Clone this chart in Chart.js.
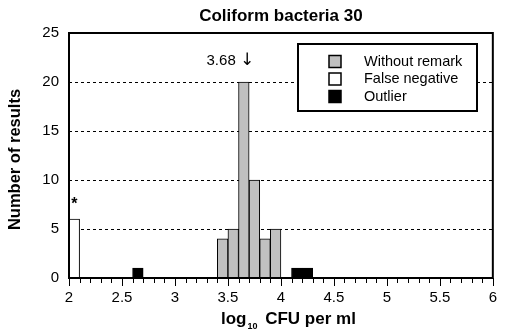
<!DOCTYPE html>
<html>
<head>
<meta charset="utf-8">
<script src="https://cdn.jsdelivr.net/npm/chart.js@4"></script>
<style>
  body { margin: 0; background: #fff; }
</style>
</head>
<body>
<canvas id="chart" width="508" height="330"></canvas>
<script>
// histogram bins (bin centres, width 0.1 log units) and counts per category
const withoutRemarkBins = [3.45, 3.55, 3.65, 3.75, 3.85, 3.95];
const withoutRemarkCounts = [4, 5, 20, 10, 4, 5];
const falseNegativeBins = [2.05];
const falseNegativeCounts = [6];
const outlierBins = [2.65, 4.15, 4.25];
const outlierCounts = [1, 1, 1];

const seriesNames = ['Without remark', 'False negative', 'Outlier'];
const xTickLabels = ['2', '2.5', '3', '3.5', '4', '4.5', '5', '5.5', '6'];
const yTickLabels = ['0', '5', '10', '15', '20', '25'];
const medianValue = 3.68;

const FONT = "'Liberation Sans', Arial, sans-serif";
Chart.defaults.font.family = FONT;
Chart.defaults.color = '#000';

function toPoints(bins, counts) {
    return bins.map((b, i) => ({ x: b, y: counts[i] }));
}

const xMin = Number(xTickLabels[0]);
const xMax = Number(xTickLabels[xTickLabels.length - 1]);
const yMax = Number(yTickLabels[yTickLabels.length - 1]);

// dashed grid lines behind the bars
const gridLines = {
    id: 'gridLines',
    beforeDatasetsDraw(chart) {
        const { ctx, chartArea: a, scales: { y } } = chart;
        ctx.save();
        ctx.strokeStyle = '#000';
        ctx.lineWidth = 1;
        ctx.setLineDash([3, 3]);
        yTickLabels.map(Number).filter(v => v > 0 && v < yMax).forEach(v => {
            const py = Math.round(y.getPixelForValue(v)) + 0.5;
            ctx.beginPath();
            ctx.moveTo(a.left, py);
            ctx.lineTo(a.right, py);
            ctx.stroke();
        });
        ctx.restore();
    }
};

// frame, minor ticks, legend and the text notes on top of everything
const extras = {
    id: 'extras',
    afterDraw(chart) {
        const { ctx, chartArea: a, scales: { x, y } } = chart;
        ctx.save();

        // ticks under the x axis, every 0.1 with longer ones on labels
        ctx.strokeStyle = '#000';
        ctx.lineWidth = 1;
        ctx.setLineDash([]);
        const steps = Math.round((xMax - xMin) * 10);
        for (let i = 0; i <= steps; i++) {
            const px = Math.round(x.getPixelForValue(xMin + i / 10)) + 0.5;
            ctx.beginPath();
            ctx.moveTo(px, a.bottom);
            ctx.lineTo(px, a.bottom + (i % 5 === 0 ? 8 : 5));
            ctx.stroke();
        }

        // plot frame
        ctx.lineWidth = 2;
        ctx.strokeRect(a.left, a.top, a.width, a.height);

        // legend box
        const lx = a.left + 229, ly = a.top + 11, lw = 179, lh = 67;
        ctx.fillStyle = '#fff';
        ctx.fillRect(lx, ly, lw, lh);
        ctx.strokeRect(lx, ly, lw, lh);
        ctx.font = '14.5px ' + FONT;
        ctx.textBaseline = 'middle';
        ctx.textAlign = 'left';
        chart.data.datasets.forEach((ds, i) => {
            const cy = ly + 17.5 + i * 17.5;
            ctx.fillStyle = ds.backgroundColor;
            ctx.fillRect(lx + 31, cy - 6, 12, 12);
            ctx.lineWidth = 1.5;
            ctx.strokeStyle = '#000';
            ctx.strokeRect(lx + 31, cy - 6, 12, 12);
            ctx.fillStyle = '#000';
            ctx.fillText(ds.label, lx + 66, cy);
        });

        // median marker
        const mx = x.getPixelForValue(medianValue);
        const head = medianValue.toFixed(2) + ' ';
        const my = y.getPixelForValue(yMax) + 28;
        ctx.font = '15px ' + FONT;
        const hw = ctx.measureText(head).width;
        ctx.font = '17px "DejaVu Sans"';
        const aw = ctx.measureText('\u2193').width;
        ctx.fillText('\u2193', mx - aw / 2, my);
        ctx.font = '15px ' + FONT;
        ctx.fillText(head, mx - aw / 2 - hw, my);

        // asterisk over the false negative bar
        ctx.font = 'bold 16px ' + FONT;
        ctx.textAlign = 'center';
        ctx.textBaseline = 'alphabetic';
        ctx.fillText('*', x.getPixelForValue(falseNegativeBins[0]), y.getPixelForValue(falseNegativeCounts[0]) - 10);

        // title
        ctx.font = 'bold 17px ' + FONT;
        ctx.textBaseline = 'middle';
        ctx.fillText('Coliform bacteria 30', (a.left + a.right) / 2, 16);

        // y axis title
        ctx.save();
        ctx.font = 'bold 16.5px ' + FONT;
        ctx.translate(15, (a.top + a.bottom) / 2 + 4);
        ctx.rotate(-Math.PI / 2);
        ctx.fillText('Number of results', 0, 0);
        ctx.restore();

        // x axis title with subscript 10
        const t1 = 'log', sub = '10', t2 = ' CFU per ml';
        ctx.font = 'bold 17px ' + FONT;
        const w1 = ctx.measureText(t1).width;
        const w3 = ctx.measureText(t2).width;
        ctx.font = 'bold 9px ' + FONT;
        const w2 = ctx.measureText(sub).width + 3;
        let tx = (a.left + a.right) / 2 + 7 - (w1 + w2 + w3) / 2;
        const ty = 324;
        ctx.textAlign = 'left';
        ctx.textBaseline = 'alphabetic';
        ctx.font = 'bold 17px ' + FONT;
        ctx.fillText(t1, tx, ty);
        tx += w1 + 1;
        ctx.font = 'bold 9px ' + FONT;
        ctx.fillText(sub, tx, ty + 5);
        tx += w2;
        ctx.font = 'bold 17px ' + FONT;
        ctx.fillText(t2, tx, ty);

        ctx.restore();
    }
};

new Chart(document.getElementById('chart'), {
    type: 'bar',
    data: {
        datasets: [{
            label: seriesNames[0],
            data: toPoints(withoutRemarkBins, withoutRemarkCounts),
            backgroundColor: '#c0c0c0',
            borderColor: '#000',
            borderWidth: 1
        }, {
            label: seriesNames[1],
            data: toPoints(falseNegativeBins, falseNegativeCounts),
            backgroundColor: '#ffffff',
            borderColor: '#000',
            borderWidth: 1
        }, {
            label: seriesNames[2],
            data: toPoints(outlierBins, outlierCounts),
            backgroundColor: '#000000',
            borderColor: '#000',
            borderWidth: 1
        }]
    },
    options: {
        responsive: false,
        animation: false,
        grouped: false,
        barPercentage: 1,
        categoryPercentage: 1,
        layout: {
            padding: { top: 33, right: 5, left: 0, bottom: 0 }
        },
        scales: {
            x: {
                type: 'linear',
                min: xMin,
                max: xMax,
                offset: false,
                afterFit: s => { s.height = 52; },
                afterBuildTicks: s => { s.ticks = xTickLabels.map(v => ({ value: Number(v) })); },
                grid: { display: true, offset: false, drawOnChartArea: false, drawTicks: false },
                border: { display: false },
                ticks: {
                    font: { size: 15 },
                    padding: 11,
                    maxRotation: 0,
                    autoSkip: false,
                    callback: v => String(v)
                }
            },
            y: {
                min: 0,
                max: yMax,
                afterFit: s => { s.width = 69; },
                afterBuildTicks: s => { s.ticks = yTickLabels.map(v => ({ value: Number(v) })); },
                grid: { display: true, drawOnChartArea: false, drawTicks: false },
                border: { display: false },
                ticks: {
                    font: { size: 15 },
                    padding: 10,
                    callback: v => String(v)
                }
            }
        },
        plugins: {
            legend: { display: false },
            tooltip: { enabled: false }
        }
    },
    plugins: [gridLines, extras]
});
</script>
</body>
</html>
